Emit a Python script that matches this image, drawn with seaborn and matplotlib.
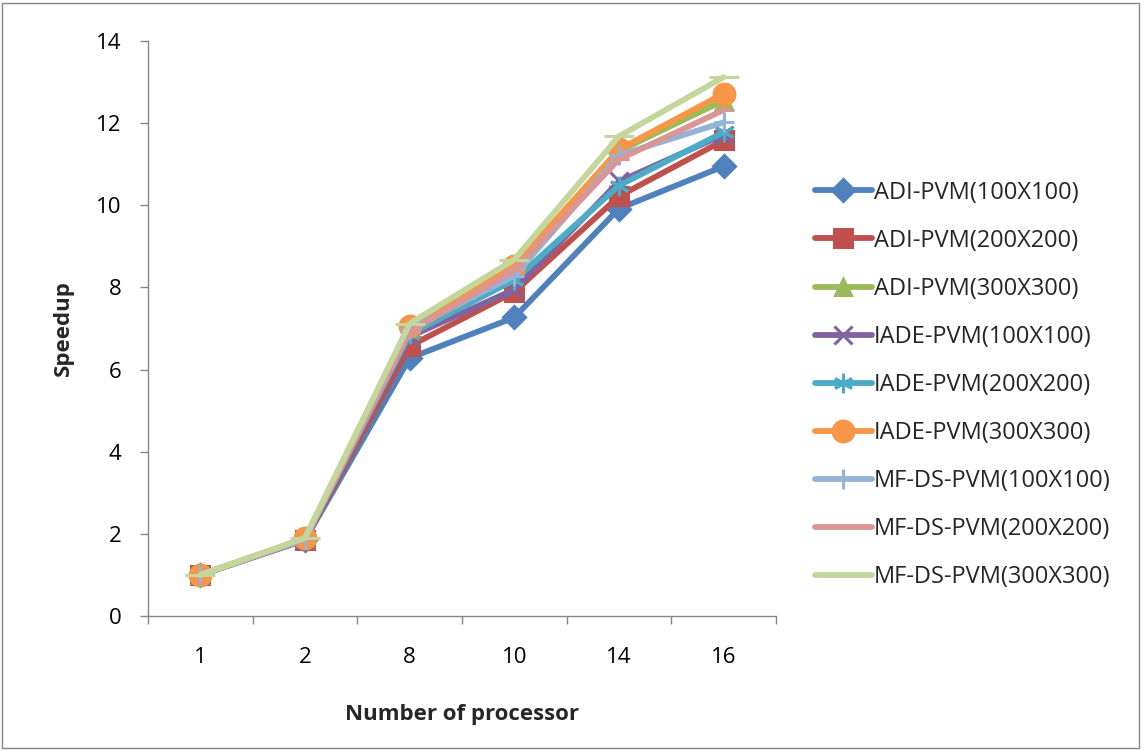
import matplotlib
matplotlib.use("Agg")
import matplotlib.pyplot as plt
import seaborn as sns
import numpy as np
import pandas as pd
from matplotlib.patches import Rectangle

# Processor counts (categorical x axis)
processors = ["1", "2", "8", "10", "14", "16"]

# Speedup per method / grid size
adi_100 = [1.0, 1.85, 6.28, 7.27, 9.92, 10.95]
adi_200 = [1.0, 1.86, 6.57, 7.89, 10.22, 11.58]
adi_300 = [1.0, 1.88, 7.00, 8.38, 11.32, 12.55]
iade_100 = [1.0, 1.86, 6.80, 7.95, 10.58, 11.72]
iade_200 = [1.0, 1.87, 6.86, 8.18, 10.48, 11.78]
iade_300 = [1.0, 1.89, 7.05, 8.52, 11.36, 12.72]
mfds_100 = [1.0, 1.87, 6.98, 8.28, 11.22, 12.02]
mfds_200 = [1.0, 1.88, 6.92, 8.42, 11.12, 12.32]
mfds_300 = [1.0, 1.90, 7.12, 8.68, 11.68, 13.12]

labels = ["ADI-PVM(100X100)", "ADI-PVM(200X200)", "ADI-PVM(300X300)",
          "IADE-PVM(100X100)", "IADE-PVM(200X200)", "IADE-PVM(300X300)",
          "MF-DS-PVM(100X100)", "MF-DS-PVM(200X200)", "MF-DS-PVM(300X300)"]
series = [adi_100, adi_200, adi_300, iade_100, iade_200, iade_300,
          mfds_100, mfds_200, mfds_300]

colors = ["#4F81BD", "#C0504D", "#9BBB59", "#8064A2", "#4BACC6", "#F79646",
          "#95B3D7", "#D99694", "#C3D69B"]
markers = ["D", "s", "^", "x", (6, 2, 0), "o", "+", "_", "_"]
msizes = [11, 13, 12, 13, 14, 15, 14, 14, 22]

sns.set_theme(style="white")
plt.rcParams["font.family"] = ["Open Sans", "DejaVu Sans"]

fig = plt.figure(figsize=(11.44, 7.51), dpi=100)
ax = fig.add_axes([148 / 1144, 1 - 616 / 751, (776 - 148) / 1144, (616 - 41) / 751])

pos = np.arange(len(processors))
for vals, lab, col, mk, ms in zip(series, labels, colors, markers, msizes):
    df = pd.DataFrame({"x": pos, "y": vals})
    sns.lineplot(data=df, x="x", y="y", ax=ax, color=col, lw=4.2, marker=mk,
                 markersize=ms, markeredgecolor=col, markeredgewidth=2.2,
                 markerfacecolor=col, label=lab, sort=False)

ax.set_xlim(-0.5, len(processors) - 0.5)
ax.set_ylim(0, 14)
ax.set_yticks(range(0, 15, 2))
ax.set_xticks(pos)
ax.set_xticklabels(processors)
ax.set_xticks(np.arange(-0.5, len(processors), 1.0), minor=True)
ax.tick_params(axis="x", which="major", length=0, labelsize=16, pad=22, colors="black")
ax.tick_params(axis="x", which="minor", length=6, width=1, color="#868686", bottom=True)
ax.tick_params(axis="y", which="major", length=6, width=1, color="#868686",
               left=True, labelsize=16, pad=13, labelcolor="black")

for side in ["top", "right"]:
    ax.spines[side].set_visible(False)
for side in ["left", "bottom"]:
    ax.spines[side].set_color("#868686")
    ax.spines[side].set_linewidth(1)

ax.set_xlabel("Number of processor", fontsize=16, fontweight="bold", labelpad=26)
ax.set_ylabel("Speedup", fontsize=16, fontweight="bold", labelpad=16)
ax.grid(False)

leg = ax.legend(loc="center left", bbox_to_anchor=(815 / 1144, 1 - 385 / 751),
                bbox_transform=fig.transFigure, frameon=False, fontsize=17,
                handlelength=2.4, handletextpad=0.1, labelspacing=1.02,
                borderaxespad=0, borderpad=0)

# Thin outer frame around the whole chart
fig.patches.append(Rectangle((0.002, 0.004), 0.994, 0.992, transform=fig.transFigure,
                             fill=False, edgecolor="#868686", lw=1))

fig.savefig("out.png", dpi=100)
